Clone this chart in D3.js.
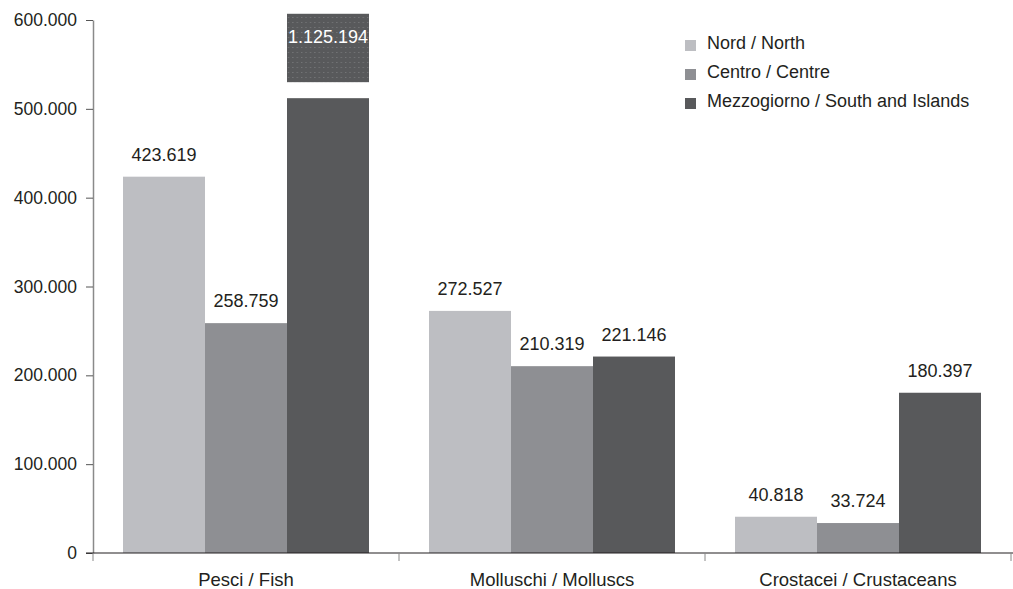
<!DOCTYPE html>
<html>
<head>
<meta charset="utf-8">
<script src="https://cdn.jsdelivr.net/npm/d3@7"></script>
<style>
  body { margin: 0; background: #fff; }
  text { font-family: "Liberation Sans", Arial, sans-serif; }
</style>
</head>
<body>
<svg width="1013" height="589"></svg>
<script>
const categories = ["Pesci / Fish", "Molluschi / Molluscs", "Crostacei / Crustaceans"];
const regions = ["Nord / North", "Centro / Centre", "Mezzogiorno / South and Islands"];
const nord = [423619, 272527, 40818];
const centro = [258759, 210319, 33724];
const mezzogiorno = [1125194, 221146, 180397];
const yTicks = [0, 100000, 200000, 300000, 400000, 500000, 600000];

const svg = d3.select("svg");
const colors = d3.scaleOrdinal().domain(regions).range(["#bdbec2", "#8e8f93", "#58595b"]);
const series = [nord, centro, mezzogiorno];

const it = d3.formatLocale({decimal: ",", thousands: ".", grouping: [3], currency: ["€", ""]});
const fmt = it.format(",d");

const x0 = d3.scaleBand().domain(categories).range([93, 1011]).paddingInner(0).paddingOuter(0);
const x1 = d3.scaleBand().domain(regions).range([30, x0.bandwidth() - 30]);
const y = d3.scaleLinear().domain([0, 600000]).range([553, 20]);

// broken bar limits
const breakLow = 512000, breakHigh = 530000, breakTop = 607000;

const defs = svg.append("defs");
const pat = defs.append("pattern").attr("id", "dots")
  .attr("width", 4.4).attr("height", 5).attr("patternUnits", "userSpaceOnUse");
pat.append("rect").attr("width", 4.4).attr("height", 5).attr("fill", "#58595b");
pat.append("rect").attr("x", 2).attr("y", 2).attr("width", 1).attr("height", 1).attr("fill", "#7f8082");

const data = [];
categories.forEach((c, i) => regions.forEach((r, j) => data.push({cat: c, reg: r, value: series[j][i]})));

const g = svg.append("g");
data.forEach(d => {
  const bx = x0(d.cat) + x1(d.reg);
  const bw = x1.bandwidth();
  if (d.value > breakTop) {
    g.append("rect").attr("x", bx).attr("y", y(breakLow)).attr("width", bw)
      .attr("height", y(0) - y(breakLow)).attr("fill", colors(d.reg));
    g.append("rect").attr("x", bx).attr("y", y(breakTop)).attr("width", bw)
      .attr("height", y(breakHigh) - y(breakTop)).attr("fill", "url(#dots)");
    g.append("text").attr("x", bx + bw / 2).attr("y", y(breakTop) + 29)
      .attr("text-anchor", "middle").attr("font-size", 18).attr("fill", "#fff")
      .text(fmt(d.value));
  } else {
    g.append("rect").attr("x", bx).attr("y", y(d.value)).attr("width", bw)
      .attr("height", y(0) - y(d.value)).attr("fill", colors(d.reg));
    g.append("text").attr("x", bx + bw / 2).attr("y", y(d.value) - 16)
      .attr("text-anchor", "middle").attr("font-size", 18).attr("fill", "#231f20")
      .text(fmt(d.value));
  }
});

// y axis
const yAxis = svg.append("g").attr("transform", "translate(93,0)")
  .call(d3.axisLeft(y).tickValues(yTicks).tickSize(7).tickSizeOuter(0).tickFormat(v => v === 0 ? "0" : fmt(v)));
yAxis.select(".domain").attr("stroke", "#8a8a8a").attr("stroke-width", 1.5);
yAxis.selectAll(".tick line").attr("stroke", "#555");
yAxis.selectAll(".tick text").attr("font-size", 17.5).attr("fill", "#231f20").attr("x", -16);

// x axis
const xAxis = svg.append("g").attr("transform", "translate(0,553)");
xAxis.append("line").attr("x1", 86).attr("x2", 1013).attr("stroke", "#231f20").attr("stroke-width", 1.2);
const bounds = categories.map(c => x0(c)).concat([x0(categories[2]) + x0.bandwidth()]);
xAxis.selectAll(".tk").data(bounds).enter().append("line")
  .attr("x1", d => d).attr("x2", d => d).attr("y1", 0).attr("y2", 8)
  .attr("stroke", "#888");
xAxis.selectAll(".lbl").data(categories).enter().append("text")
  .attr("x", d => x0(d) + x0.bandwidth() / 2).attr("y", 33)
  .attr("text-anchor", "middle").attr("font-size", 18.5).attr("fill", "#231f20")
  .text(d => d);

// legend
const legend = svg.append("g").attr("transform", "translate(685,40)");
const items = legend.selectAll(".item").data(regions).enter().append("g")
  .attr("transform", (d, i) => `translate(0,${i * 29})`);
items.append("rect").attr("width", 11).attr("height", 11).attr("fill", d => colors(d));
items.append("text").attr("x", 22).attr("y", 9)
  .attr("font-size", 18).attr("fill", "#231f20").text(d => d);
</script>
</body>
</html>
